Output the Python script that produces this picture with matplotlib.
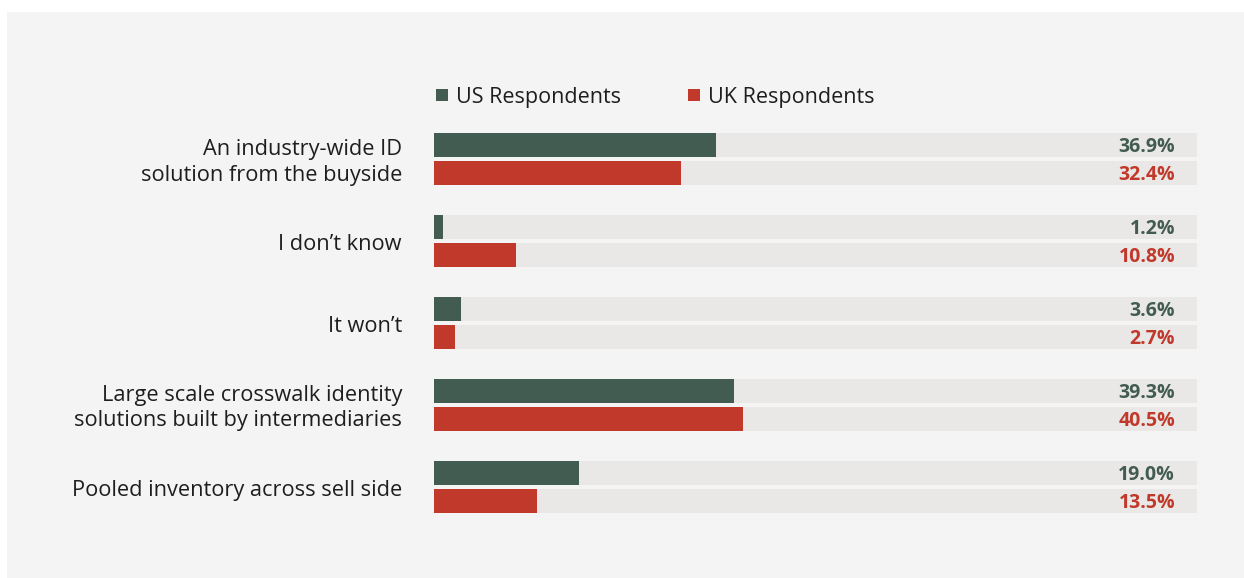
import matplotlib
matplotlib.use("Agg")
import matplotlib.pyplot as plt
import matplotlib.transforms as mtransforms
from matplotlib.patches import Rectangle
import numpy as np

plt.rcParams['font.family'] = ['Open Sans', 'DejaVu Sans']

categories = [
    "An industry-wide ID\nsolution from the buyside",
    "I don\u2019t know",
    "It won\u2019t",
    "Large scale crosswalk identity\nsolutions built by intermediaries",
    "Pooled inventory across sell side",
]
us_values = [36.9, 1.2, 3.6, 39.3, 19.0]
uk_values = [32.4, 10.8, 2.7, 40.5, 13.5]
series_names = ["US Respondents", "UK Respondents"]

US_COLOR = "#435c52"
UK_COLOR = "#c0392b"
TRACK_COLOR = "#e9e8e6"
PANEL_COLOR = "#f4f4f4"
TEXT_COLOR = "#1e1e1e"

W, H = 1244, 578
fig = plt.figure(figsize=(W / 100, H / 100), dpi=100, facecolor="white")

# light grey panel behind the chart
fig.patches.append(Rectangle((7 / W, 0), 1 - 7 / W, 1 - 12 / H,
                             transform=fig.transFigure, facecolor=PANEL_COLOR,
                             edgecolor="none", zorder=-10))

# axes area in pixels
ax_left, ax_right = 434, 1197
ax_top, ax_bottom = 133, 515
ax = fig.add_axes([ax_left / W, 1 - ax_bottom / H,
                   (ax_right - ax_left) / W, (ax_bottom - ax_top) / H])
ax.set_facecolor("none")
ax.set_zorder(1)

pitch = 82.0
bar_h = 24 / pitch
off = 14 / pitch
n = len(categories)
y = np.arange(n)

ax.set_xlim(0, 100)
ax.set_ylim(n - 1 + (ax_bottom - (159 + pitch * (n - 1))) / pitch, -26 / pitch)

# full-width tracks
ax.barh(y - off, [100] * n, height=bar_h, color=TRACK_COLOR, zorder=1)
ax.barh(y + off, [100] * n, height=bar_h, color=TRACK_COLOR, zorder=1)
# data bars
ax.barh(y - off, us_values, height=bar_h, color=US_COLOR, zorder=2)
ax.barh(y + off, uk_values, height=bar_h, color=UK_COLOR, zorder=2)

for a in ["top", "right", "bottom", "left"]:
    ax.spines[a].set_visible(False)
ax.set_xticks([])
ax.set_yticks([])

# value labels at the right end of each track
val_tr = mtransforms.offset_copy(ax.transData, fig=fig, x=-22, y=-2, units="dots")
for i in range(n):
    ax.text(100, y[i] - off, f"{us_values[i]:.1f}%", transform=val_tr,
            ha="right", va="center", fontsize=14, fontweight="bold",
            color=US_COLOR, clip_on=False)
    ax.text(100, y[i] + off, f"{uk_values[i]:.1f}%", transform=val_tr,
            ha="right", va="center", fontsize=14, fontweight="bold",
            color=UK_COLOR, clip_on=False)

# category labels
cat_tr = mtransforms.offset_copy(ax.transData, fig=fig, x=-32, y=-3.5, units="dots")
for i, c in enumerate(categories):
    ax.text(0, y[i], c, transform=cat_tr, ha="right", va="center",
            fontsize=15.7, color=TEXT_COLOR, linespacing=1.25, clip_on=False)

# legend
for x0, name, col in [(436, series_names[0], US_COLOR), (688, series_names[1], UK_COLOR)]:
    fig.patches.append(Rectangle((x0 / W, 1 - 101 / H), 12 / W, 12 / H,
                                 transform=fig.transFigure, facecolor=col,
                                 edgecolor="none", zorder=3))
    fig.text((x0 + 20) / W, 1 - 97 / H, name, ha="left", va="center",
             fontsize=15.5, color=TEXT_COLOR)

fig.savefig("out.png", dpi=100, facecolor=fig.get_facecolor())
